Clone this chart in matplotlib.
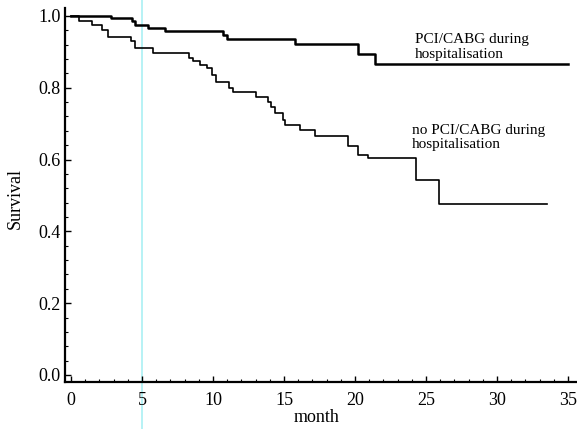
import matplotlib

matplotlib.use("Agg")
import matplotlib.pyplot as plt
from matplotlib.ticker import MultipleLocator
import matplotlib.transforms as mtransforms

plt.rcParams["font.family"] = ["Liberation Serif", "DejaVu Serif"]

# Kaplan-Meier steps (month, survival after the drop)
pci_months = [0, 2.8, 4.3, 4.5, 5.4, 6.6, 10.7, 11.0, 15.8, 20.2, 21.4, 35.0]
pci_surv = [1.0, 0.994, 0.985, 0.974, 0.966, 0.958, 0.947, 0.937, 0.921, 0.893, 0.866, 0.866]

nopci_months = [0, 0.6, 1.5, 2.2, 2.6, 4.2, 4.5, 5.8, 8.3, 8.6, 9.1, 9.6, 9.9, 10.2,
                11.1, 11.4, 13.0, 13.9, 14.1, 14.4, 14.9, 15.1, 16.1, 17.2, 19.5,
                20.2, 20.9, 24.3, 25.9, 33.5]
nopci_surv = [1.0, 0.985, 0.975, 0.962, 0.940, 0.929, 0.911, 0.896, 0.883, 0.874,
              0.864, 0.855, 0.836, 0.817, 0.800, 0.789, 0.775, 0.760, 0.747, 0.730,
              0.711, 0.696, 0.682, 0.666, 0.638, 0.613, 0.604, 0.543, 0.477, 0.477]

labels = ["PCI/CABG during\nhospitalisation", "no PCI/CABG during\nhospitalisation"]
label_pos = [(24.2, 0.913), (24.0, 0.661)]
marker_month = 5

fig = plt.figure(figsize=(5.77, 4.29), dpi=100)
ax = fig.add_axes([65 / 577, 47 / 429, 512 / 577, 374 / 429])

ax.plot(pci_months, pci_surv, drawstyle="steps-post", color="black", lw=1.8)
ax.plot(nopci_months, nopci_surv, drawstyle="steps-post", color="black", lw=1.2)

for text, (x, y) in zip(labels, label_pos):
    ax.text(x, y, text, fontsize=11, va="center", ha="left", linespacing=1.15)

# thin cyan guide line crossing the whole figure at month 5
trans = mtransforms.blended_transform_factory(ax.transData, ax.transAxes)
ax.plot([marker_month, marker_month], [-0.15, 1.05], transform=trans,
        color="#aaf0f4", lw=1.2, clip_on=False, zorder=0)

ax.set_xlim(-0.42, 35.63)
ax.set_ylim(-0.0195, 1.022)
ax.xaxis.set_major_locator(MultipleLocator(5))
ax.xaxis.set_minor_locator(MultipleLocator(1))
ax.yaxis.set_major_locator(MultipleLocator(0.2))
ax.yaxis.set_minor_locator(MultipleLocator(0.04))
ax.yaxis.set_major_formatter(plt.FormatStrFormatter("%.1f"))

for side in ["top", "right"]:
    ax.spines[side].set_visible(False)
for side in ["left", "bottom"]:
    ax.spines[side].set_linewidth(1.6)

ax.tick_params(which="major", direction="in", length=4, width=1.0, labelsize=13)
ax.tick_params(axis="x", which="major", pad=7)
ax.tick_params(axis="y", which="major", pad=3)
ax.tick_params(which="minor", direction="in", length=2.5, width=0.8)

ax.set_xlabel("month", fontsize=13)
ax.set_ylabel("Survival", fontsize=13)
ax.xaxis.set_label_coords((317 - 65) / 512, (382 - 409) / 374)
ax.yaxis.set_label_coords((24 - 65) / 512, 0.49)

fig.savefig("out.png", dpi=100)
